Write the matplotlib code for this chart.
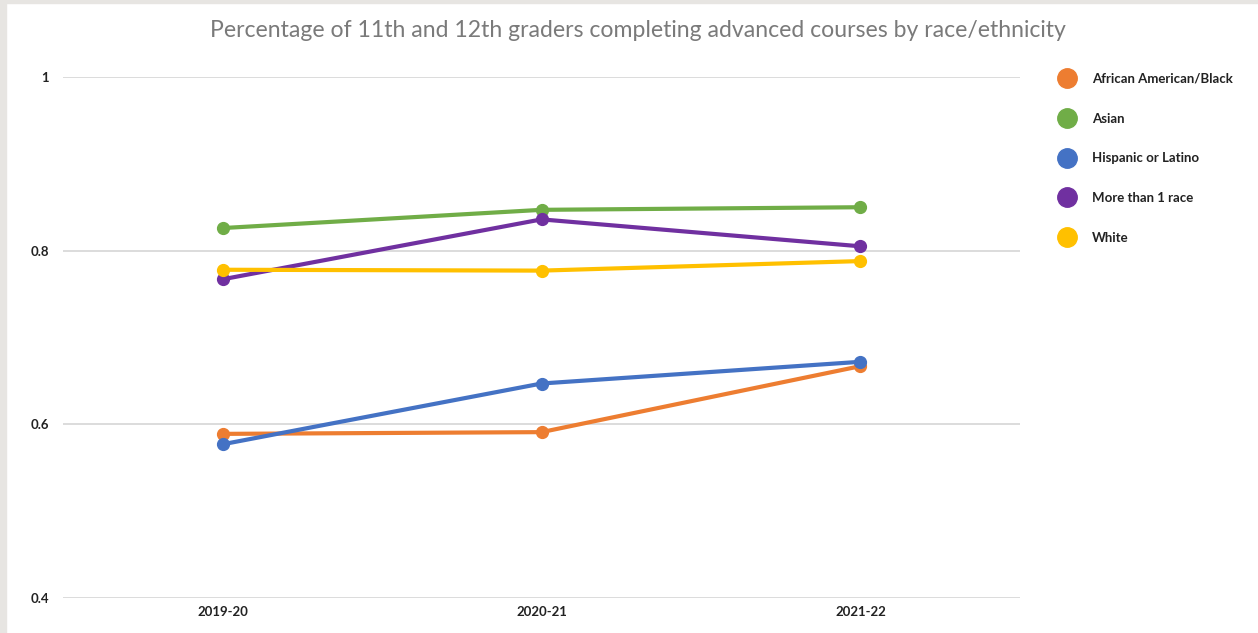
import matplotlib.pyplot as plt
from matplotlib.lines import Line2D
from matplotlib.patches import Rectangle

plt.rcParams['font.family'] = ['Lato', 'DejaVu Sans']

years = ["2019-20", "2020-21", "2021-22"]
black = [0.589, 0.591, 0.667]
asian = [0.826, 0.847, 0.850]
hispanic = [0.577, 0.647, 0.672]
multi = [0.767, 0.836, 0.805]
white = [0.778, 0.777, 0.788]

series_names = ["African American/Black", "Asian", "Hispanic or Latino",
                "More than 1 race", "White"]
series_values = [black, asian, hispanic, multi, white]
colors = ["#ED7D31", "#70AD47", "#4472C4", "#7030A0", "#FFC000"]

y_ticks = [0.4, 0.6, 0.8, 1.0]
y_labels = ["0.4", "0.6", "0.8", "1"]

fig = plt.figure(figsize=(12.58, 6.33), dpi=100)
ax = fig.add_axes([0.0501, 0.0553, 0.7607, 0.8231])

# light gray frame on the left and top edges
fig.patches.append(Rectangle((0, 0), 6 / 1258, 1, transform=fig.transFigure,
                             color="#e7e5e2", zorder=0))
fig.patches.append(Rectangle((0, 1 - 3 / 633), 1, 3 / 633, transform=fig.transFigure,
                             color="#e7e5e2", zorder=0))

x = list(range(len(years)))
for name, vals, c in zip(series_names, series_values, colors):
    ax.plot(x, vals, color=c, lw=3, marker="o", markersize=8.5,
            solid_capstyle="round", label=name)

ax.set_xlim(-0.5, 2.5)
ax.set_ylim(0.4, 1.0)
ax.set_yticks(y_ticks)
ax.set_yticklabels(y_labels)
ax.set_xticks(x)
ax.set_xticklabels(years)
ax.grid(axis="y", color="#d9d9d9", lw=1.3)
ax.set_axisbelow(True)
ax.tick_params(length=0, labelsize=9.5, labelcolor="#222222", pad=6)
ax.tick_params(axis="y", pad=10)
for lab in ax.get_xticklabels() + ax.get_yticklabels():
    lab.set_fontweight("bold")
for s in ax.spines.values():
    s.set_visible(False)

fig.text(0.507, 0.952, "Percentage of 11th and 12th graders completing advanced courses by race/ethnicity",
         ha="center", va="center", fontsize=16.6, color="#7a7a7a")

handles = [Line2D([], [], color=c, marker="o", linestyle="none", markersize=14)
           for c in colors]
leg = fig.legend(handles, series_names, loc="upper left",
                 bbox_to_anchor=(1047 / 1258, 1 - 61 / 633), frameon=False,
                 fontsize=9.5, labelspacing=2.1, handletextpad=1.3,
                 handlelength=1.2)
for t in leg.get_texts():
    t.set_fontweight("bold")
    t.set_color("#222222")

fig.savefig("out.png", dpi=100)
